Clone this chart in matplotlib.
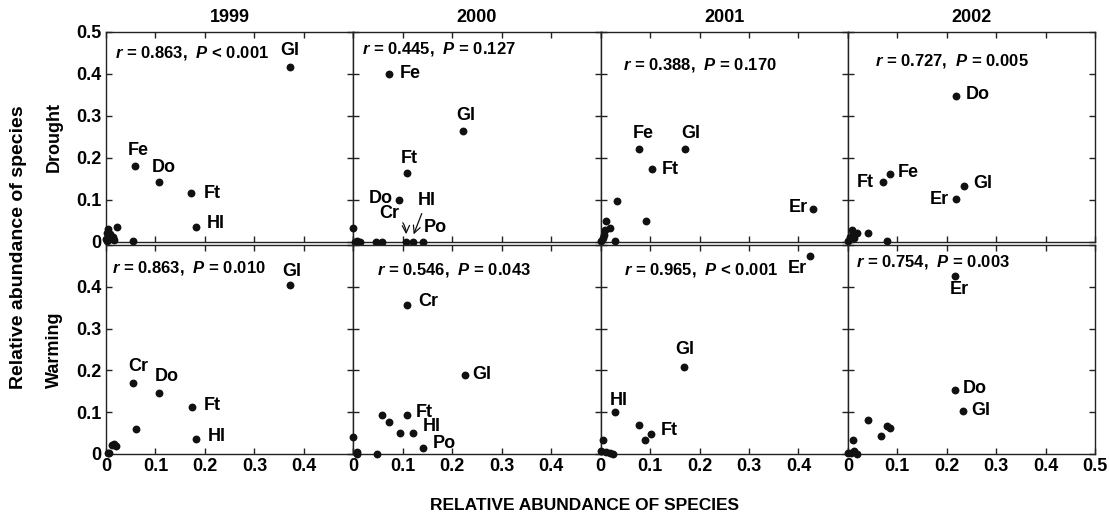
import matplotlib
matplotlib.use("Agg")
import matplotlib.pyplot as plt

plt.rcParams["font.family"] = ["Liberation Sans", "DejaVu Sans"]
plt.rcParams["font.weight"] = "bold"
plt.rcParams["mathtext.fontset"] = "custom"
plt.rcParams["mathtext.it"] = "Liberation Sans:italic:bold"
plt.rcParams["mathtext.rm"] = "Liberation Sans:bold"
plt.rcParams["mathtext.bf"] = "Liberation Sans:bold"

years = ["1999", "2000", "2001", "2002"]
treatments = ["Drought", "Warming"]
ticks = [0, 0.1, 0.2, 0.3, 0.4, 0.5]
tick_labels = ["0", "0.1", "0.2", "0.3", "0.4", "0.5"]

# Drought row (x = control abundance, y = treatment abundance)
drought_1999_x = [0.372, 0.059, 0.108, 0.172, 0.182, 0.023, 0.005, 0.003, 0.015, 0.016, 0.054, 0.002, 0.008, 0.0]
drought_1999_y = [0.416, 0.182, 0.142, 0.116, 0.036, 0.036, 0.030, 0.022, 0.011, 0.004, 0.002, 0.003, 0.018, 0.008]
drought_1999_names = ["Gl", "Fe", "Do", "Ft", "Hl"]

drought_2000_x = [0.073, 0.222, 0.109, 0.092, 0.107, 0.120, 0.140, 0.0, 0.003, 0.008, 0.013, 0.046, 0.058]
drought_2000_y = [0.400, 0.264, 0.165, 0.099, 0.0, 0.0, 0.0, 0.033, 0.0, 0.002, 0.0, 0.0, 0.0]
drought_2000_names = ["Fe", "Gl", "Ft", "Do", "Cr", "Hl", "Po"]

drought_2001_x = [0.078, 0.171, 0.103, 0.430, 0.033, 0.092, 0.010, 0.018, 0.009, 0.006, 0.030, 0.0, 0.004]
drought_2001_y = [0.221, 0.221, 0.175, 0.079, 0.097, 0.051, 0.051, 0.033, 0.029, 0.017, 0.003, 0.003, 0.010]
drought_2001_names = ["Fe", "Gl", "Ft", "Er"]

drought_2002_x = [0.218, 0.085, 0.070, 0.234, 0.218, 0.040, 0.079, 0.009, 0.011, 0.004, 0.019, 0.0, 0.013]
drought_2002_y = [0.348, 0.163, 0.143, 0.133, 0.103, 0.021, 0.002, 0.029, 0.021, 0.012, 0.021, 0.003, 0.009]
drought_2002_names = ["Do", "Fe", "Ft", "Gl", "Er"]

# Warming row
warming_1999_x = [0.372, 0.055, 0.108, 0.173, 0.182, 0.060, 0.016, 0.020, 0.013, 0.006, 0.004]
warming_1999_y = [0.404, 0.169, 0.146, 0.113, 0.037, 0.060, 0.024, 0.020, 0.022, 0.003, 0.002]
warming_1999_names = ["Gl", "Cr", "Do", "Ft", "Hl"]

warming_2000_x = [0.109, 0.225, 0.109, 0.121, 0.140, 0.058, 0.073, 0.094, 0.047, 0.007, 0.008, 0.0]
warming_2000_y = [0.356, 0.189, 0.093, 0.051, 0.014, 0.094, 0.077, 0.051, 0.0, 0.005, 0.0, 0.040]
warming_2000_names = ["Cr", "Gl", "Ft", "Hl", "Po"]

warming_2001_x = [0.424, 0.169, 0.030, 0.101, 0.078, 0.089, 0.004, 0.001, 0.010, 0.018, 0.026]
warming_2001_y = [0.474, 0.209, 0.100, 0.048, 0.070, 0.033, 0.033, 0.008, 0.005, 0.003, 0.001]
warming_2001_names = ["Er", "Gl", "Hl", "Ft"]

warming_2002_x = [0.216, 0.216, 0.233, 0.040, 0.080, 0.085, 0.067, 0.011, 0.013, 0.0, 0.018, 0.006]
warming_2002_y = [0.427, 0.153, 0.103, 0.081, 0.066, 0.062, 0.043, 0.033, 0.008, 0.003, 0.001, 0.002]
warming_2002_names = ["Er", "Do", "Gl"]

drought_r = ["0.863", "0.445", "0.388", "0.727"]
drought_p = ["< 0.001", "= 0.127", "= 0.170", "= 0.005"]
warming_r = ["0.863", "0.546", "0.965", "0.754"]
warming_p = ["= 0.010", "= 0.043", "< 0.001", "= 0.003"]

# label placement: offset in pixels from the dot, alignment, optional arrow curvature
placements = {
    (0, 0): [(0, 17, "center"), (3, 15, "center"), (4, 15, "center"), (13, 0, "left"), (11, 3, "left")],
    (0, 1): [(10, 0, "left"), (3, 16, "center"), (2, 14, "center"), (-6, 2, "right"),
             (-17, 23, "center", -0.4), (14, 36, "center", 0.0), (13, 14, "center")],
    (0, 2): [(4, 16, "center"), (6, 16, "center"), (10, -1, "left"), (-5, 1, "right")],
    (0, 3): [(10, 1, "left"), (8, 1, "left"), (-9, -1, "right"), (10, 3, "left"), (-7, -1, "right")],
    (1, 0): [(2, 14, "center"), (5, 17, "center"), (7, 16, "center"), (12, 1, "left"), (12, 2, "left")],
    (1, 1): [(11, 4, "left"), (8, 0, "left"), (9, 3, "left"), (10, 6, "left"), (10, 5, "left")],
    (1, 2): [(-13, -13, "center"), (1, 17, "center"), (3, 12, "center"), (10, 3, "left")],
    (1, 3): [(5, -14, "center"), (8, 2, "left"), (8, 0, "left")],
}
stat_pos = {
    (0, 0): (0.018, 0.449), (0, 1): (0.018, 0.459), (0, 2): (0.045, 0.421), (0, 3): (0.055, 0.432),
    (1, 0): (0.013, 0.444), (1, 1): (0.048, 0.439), (1, 2): (0.047, 0.440), (1, 3): (0.016, 0.460),
}


def draw_panel(ax, xs, ys, names, places, stat, spos):
    ax.scatter(xs, ys, s=32, color="#111111", linewidths=0, clip_on=False, zorder=3)
    for i, name in enumerate(names):
        p = places[i]
        dx, dy, ha = p[0], p[1], p[2]
        if len(p) > 3:
            ax.annotate(name, (xs[i], ys[i] + 0.012), xytext=(dx, dy), textcoords="offset pixels",
                        ha=ha, va="center", fontsize=13, fontweight="bold",
                        arrowprops=dict(arrowstyle="->", lw=0.9, color="#111111",
                                        connectionstyle=f"arc3,rad={p[3]}",
                                        shrinkA=1, shrinkB=2))
        else:
            ax.annotate(name, (xs[i], ys[i]), xytext=(dx, dy), textcoords="offset pixels",
                        ha=ha, va="center", fontsize=13, fontweight="bold")
    ax.text(spos[0], spos[1], stat, ha="left", va="center", fontsize=12, fontweight="bold")


def main():
    fig = plt.figure(figsize=(11.09, 5.14), dpi=100)
    W, H = 1109, 514
    left, width = 106, 247.3
    rows = [(32, 242), (245, 454)]
    data = [
        [(drought_1999_x, drought_1999_y, drought_1999_names),
         (drought_2000_x, drought_2000_y, drought_2000_names),
         (drought_2001_x, drought_2001_y, drought_2001_names),
         (drought_2002_x, drought_2002_y, drought_2002_names)],
        [(warming_1999_x, warming_1999_y, warming_1999_names),
         (warming_2000_x, warming_2000_y, warming_2000_names),
         (warming_2001_x, warming_2001_y, warming_2001_names),
         (warming_2002_x, warming_2002_y, warming_2002_names)],
    ]
    stats = [(drought_r, drought_p), (warming_r, warming_p)]

    for r, (top, bottom) in enumerate(rows):
        for c in range(4):
            ax = fig.add_axes([(left + c * width) / W, 1 - bottom / H, width / W, (bottom - top) / H])
            ax.set_xlim(0, 0.5)
            ax.set_ylim(0, 0.5)
            ax.set_xticks(ticks)
            ax.set_yticks(ticks)
            xl = list(tick_labels)
            if c < 3:
                xl[-1] = ""
            ax.set_xticklabels(xl)
            yl = list(tick_labels)
            if r == 1:
                yl[-1] = ""
            ax.set_yticklabels(yl)
            ax.tick_params(direction="in", top=True, right=True, length=4.5, width=1,
                           labelsize=13, pad=3, color="#222222",
                           labelleft=(c == 0), labelbottom=(r == 1))
            for s in ax.spines.values():
                s.set_linewidth(1.0)
                s.set_color("#222222")
            xs, ys, names = data[r][c]
            rv, pv = stats[r]
            stat = f"$r$ = {rv[c]},  $P$ {pv[c]}"
            draw_panel(ax, xs, ys, names, placements[(r, c)], stat, stat_pos[(r, c)])
            if r == 0:
                fig.text((left + (c + 0.5) * width) / W, 1 - 17 / H, years[c],
                         ha="center", va="center", fontsize=13, fontweight="bold")

    fig.text(54 / W, 1 - 137 / H, treatments[0], rotation=90, ha="center", va="center",
             fontsize=13, fontweight="bold")
    fig.text(54 / W, 1 - 350 / H, treatments[1], rotation=90, ha="center", va="center",
             fontsize=13, fontweight="bold")
    fig.text(19 / W, 1 - 247 / H, "Relative abundance of species", rotation=90,
             ha="center", va="center", fontsize=14, fontweight="bold")
    fig.text(584 / W, 1 - 505 / H, "RELATIVE ABUNDANCE OF SPECIES", ha="center",
             va="center", fontsize=12.5, fontweight="bold")

    fig.savefig("out.png", dpi=100)


if __name__ == "__main__":
    main()
